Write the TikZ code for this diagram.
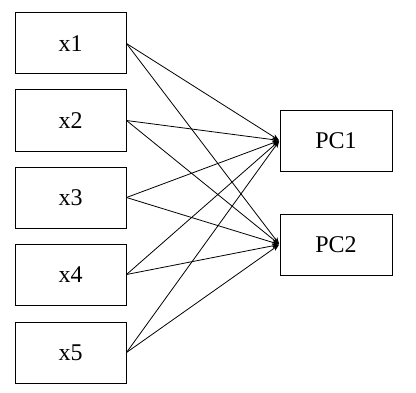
\documentclass[tikz,border=0pt]{standalone}
\usepackage{fontspec}
\setmainfont{Liberation Serif}
\usetikzlibrary{arrows.meta}
\begin{document}
\begin{tikzpicture}[x=0.75pt,y=-0.75pt,
  var/.style={draw,line width=0.75pt,minimum width=83.25pt,minimum height=45.75pt,inner sep=0pt,font=\fontsize{18}{21}\selectfont},
  pc/.style={var,minimum width=84pt},
  link/.style={line width=0.6pt,-{Stealth[length=5pt,width=4pt]},shorten >=0.5pt}]
\useasboundingbox (0,0) rectangle (416,392);
\node[var] (x1) at (70.5,43.5) {x1};
\node[var] (x2) at (70.5,120.5) {x2};
\node[var] (x3) at (70.5,197.5) {x3};
\node[var] (x4) at (70.5,274.5) {x4};
\node[var] (x5) at (70.5,352.5) {x5};
\node[pc] (p1) at (336,140.5) {PC1};
\node[pc] (p2) at (336,244.5) {PC2};
\foreach \i in {x1,x2,x3,x4,x5}{
  \draw[link] (\i.east) -- (p1.west);
  \draw[link] (\i.east) -- (p2.west);
}
\end{tikzpicture}
\end{document}
